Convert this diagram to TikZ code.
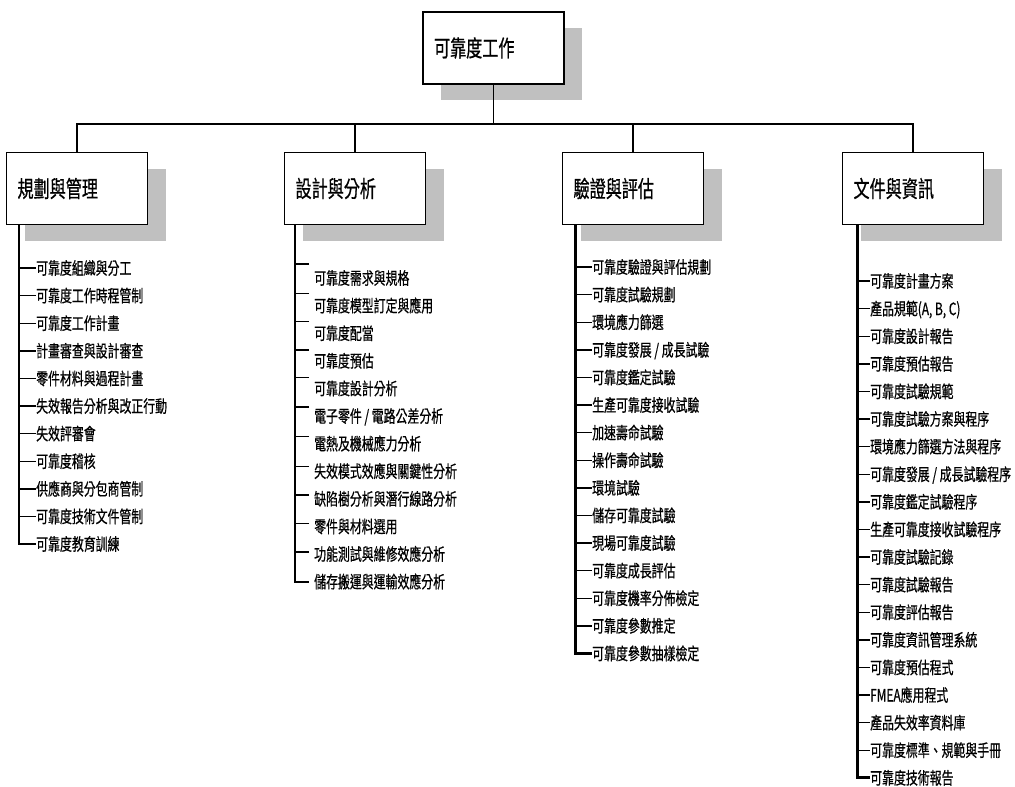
\documentclass[tikz,border=0pt]{standalone}
\usepackage{fontspec}
\setmainfont[FakeStretch=0.7, FakeBold=0.6]{Noto Sans CJK TC}
\usetikzlibrary{positioning, shadows}
\definecolor{shadowgray}{HTML}{C0C0C0}
\tikzstyle{head} = [rectangle, draw=black, line width=1.6pt, fill=white, minimum width=141pt, minimum height=72pt, text width=119pt, inner xsep=11pt, align=left, font=\fontsize{23pt}{27pt}\selectfont, drop shadow={shadow xshift=18pt, shadow yshift=-16pt, fill=shadowgray, opacity=1}]
\tikzstyle{item} = [inner xsep=0pt, inner ysep=1pt, text height=13pt, text depth=0pt, anchor=west, font=\fontsize{17pt}{20pt}\selectfont]
\tikzstyle{line} = [line width=1.6pt]
\tikzstyle{spine} = [line width=2pt]
\tikzstyle{tick} = [line width=1.4pt]

\begin{document}
\begin{tikzpicture}[x=1pt, y=-1pt, node distance=27.6pt]
\useasboundingbox (0,0) rectangle (1015,787);

% Top and group boxes
\node (R) [head] at (493.5,48) {可靠度工作};
\node (B1) [head] at (77,188.5) {規劃與管理};
\node (B2) [head] at (355,188.5) {設計與分析};
\node (B3) [head] at (633,188.5) {驗證與評估};
\node (B4) [head] at (913,188.5) {文件與資訊};

% Planning and management
\node (p1) [item] at (36,268) {可靠度組織與分工};
\node (p2) [item, below=of p1.west, anchor=west] {可靠度工作時程管制};
\node (p3) [item, below=of p2.west, anchor=west] {可靠度工作計畫};
\node (p4) [item, below=of p3.west, anchor=west] {計畫審查與設計審查};
\node (p5) [item, below=of p4.west, anchor=west] {零件材料與過程計畫};
\node (p6) [item, below=of p5.west, anchor=west] {失效報告分析與改正行動};
\node (p7) [item, below=of p6.west, anchor=west] {失效評審會};
\node (p8) [item, below=of p7.west, anchor=west] {可靠度稽核};
\node (p9) [item, below=of p8.west, anchor=west] {供應商與分包商管制};
\node (p10) [item, below=of p9.west, anchor=west] {可靠度技術文件管制};
\node (p11) [item, below=of p10.west, anchor=west] {可靠度教育訓練};

% Design and analysis
\node (d1) [item] at (314,278) {可靠度需求與規格};
\node (d2) [item, below=of d1.west, anchor=west] {可靠度模型訂定與應用};
\node (d3) [item, below=of d2.west, anchor=west] {可靠度配當};
\node (d4) [item, below=of d3.west, anchor=west] {可靠度預估};
\node (d5) [item, below=of d4.west, anchor=west] {可靠度設計分析};
\node (d6) [item, below=of d5.west, anchor=west] {電子零件 / 電路公差分析};
\node (d7) [item, below=of d6.west, anchor=west] {電熱及機械應力分析};
\node (d8) [item, below=of d7.west, anchor=west] {失效模式效應與關鍵性分析};
\node (d9) [item, below=of d8.west, anchor=west] {缺陷樹分析與潛行線路分析};
\node (d10) [item, below=of d9.west, anchor=west] {零件與材料選用};
\node (d11) [item, below=of d10.west, anchor=west] {功能測試與維修效應分析};
\node (d12) [item, below=of d11.west, anchor=west] {儲存搬運與運輸效應分析};

% Verification and evaluation
\node (v1) [item] at (592,267) {可靠度驗證與評估規劃};
\node (v2) [item, below=of v1.west, anchor=west] {可靠度試驗規劃};
\node (v3) [item, below=of v2.west, anchor=west] {環境應力篩選};
\node (v4) [item, below=of v3.west, anchor=west] {可靠度發展 / 成長試驗};
\node (v5) [item, below=of v4.west, anchor=west] {可靠度鑑定試驗};
\node (v6) [item, below=of v5.west, anchor=west] {生產可靠度接收試驗};
\node (v7) [item, below=of v6.west, anchor=west] {加速壽命試驗};
\node (v8) [item, below=of v7.west, anchor=west] {操作壽命試驗};
\node (v9) [item, below=of v8.west, anchor=west] {環境試驗};
\node (v10) [item, below=of v9.west, anchor=west] {儲存可靠度試驗};
\node (v11) [item, below=of v10.west, anchor=west] {現場可靠度試驗};
\node (v12) [item, below=of v11.west, anchor=west] {可靠度成長評估};
\node (v13) [item, below=of v12.west, anchor=west] {可靠度機率分佈檢定};
\node (v14) [item, below=of v13.west, anchor=west] {可靠度參數推定};
\node (v15) [item, below=of v14.west, anchor=west] {可靠度參數抽樣檢定};

% Documents and information
\node (f1) [item] at (870,281) {可靠度計畫方案};
\node (f2) [item, below=of f1.west, anchor=west] {產品規範(A, B, C)};
\node (f3) [item, below=of f2.west, anchor=west] {可靠度設計報告};
\node (f4) [item, below=of f3.west, anchor=west] {可靠度預估報告};
\node (f5) [item, below=of f4.west, anchor=west] {可靠度試驗規範};
\node (f6) [item, below=of f5.west, anchor=west] {可靠度試驗方案與程序};
\node (f7) [item, below=of f6.west, anchor=west] {環境應力篩選方法與程序};
\node (f8) [item, below=of f7.west, anchor=west] {可靠度發展 / 成長試驗程序};
\node (f9) [item, below=of f8.west, anchor=west] {可靠度鑑定試驗程序};
\node (f10) [item, below=of f9.west, anchor=west] {生產可靠度接收試驗程序};
\node (f11) [item, below=of f10.west, anchor=west] {可靠度試驗記錄};
\node (f12) [item, below=of f11.west, anchor=west] {可靠度試驗報告};
\node (f13) [item, below=of f12.west, anchor=west] {可靠度評估報告};
\node (f14) [item, below=of f13.west, anchor=west] {可靠度資訊管理系統};
\node (f15) [item, below=of f14.west, anchor=west] {可靠度預估程式};
\node (f16) [item, below=of f15.west, anchor=west] {FMEA應用程式};
\node (f17) [item, below=of f16.west, anchor=west] {產品失效率資料庫};
\node (f18) [item, below=of f17.west, anchor=west] {可靠度標準、規範與手冊};
\node (f19) [item, below=of f18.west, anchor=west] {可靠度技術報告};

% Bus from the top box
\coordinate (bus) at (493.5,124);
\draw [line] (R.south) -- (bus);
\draw [line] (B1.north) |- (bus) -| (B4.north);
\draw [line] (B2.north) -- (B2.north |- bus);
\draw [line] (B3.north) -- (B3.north |- bus);

% Spines under the group boxes
\coordinate (L1) at ([xshift=13.5pt]B1.south west);
\coordinate (L2) at ([xshift=11.5pt]B2.south west);
\coordinate (L3) at ([xshift=13.5pt]B3.south west);
\coordinate (L4) at ([xshift=15.5pt]B4.south west);
\draw [spine] (L1) |- (p11.west);
\draw [spine] (L2) |- ([xshift=-5pt]d12.west);
\draw [spine, line width=3pt] (L3) |- (v15.west);
\draw [spine, line width=3pt] (L4) |- (f19.west);

% Ticks
\draw [tick] (L1 |- p1.west) -- (p1.west);
\draw [tick] (L1 |- p2.west) -- (p2.west);
\draw [tick] (L1 |- p3.west) -- (p3.west);
\draw [tick] (L1 |- p4.west) -- (p4.west);
\draw [tick] (L1 |- p5.west) -- (p5.west);
\draw [tick] (L1 |- p6.west) -- (p6.west);
\draw [tick] (L1 |- p7.west) -- (p7.west);
\draw [tick] (L1 |- p8.west) -- (p8.west);
\draw [tick] (L1 |- p9.west) -- (p9.west);
\draw [tick] (L1 |- p10.west) -- (p10.west);

\draw [tick] ([shift={(-5pt,14pt)}]d1.west) -- ++(-13pt,0);
\draw [tick] ([shift={(-5pt,12pt)}]d2.west) -- ++(-13pt,0);
\draw [tick] ([shift={(-5pt,12pt)}]d3.west) -- ++(-13pt,0);
\draw [tick] ([shift={(-5pt,11pt)}]d4.west) -- ++(-13pt,0);
\draw [tick] ([shift={(-5pt,11pt)}]d5.west) -- ++(-13pt,0);
\draw [tick] ([shift={(-5pt,9pt)}]d6.west) -- ++(-13pt,0);
\draw [tick] ([shift={(-5pt,7pt)}]d7.west) -- ++(-13pt,0);
\draw [tick] ([shift={(-5pt,5pt)}]d8.west) -- ++(-13pt,0);
\draw [tick] ([shift={(-5pt,4pt)}]d9.west) -- ++(-13pt,0);
\draw [tick] ([shift={(-5pt,3pt)}]d10.west) -- ++(-13pt,0);
\draw [tick] ([shift={(-5pt,2pt)}]d11.west) -- ++(-13pt,0);

\draw [tick] (L3 |- v1.west) -- (v1.west);
\draw [tick] (L3 |- v2.west) -- (v2.west);
\draw [tick] (L3 |- v3.west) -- (v3.west);
\draw [tick] (L3 |- v4.west) -- (v4.west);
\draw [tick] (L3 |- v5.west) -- (v5.west);
\draw [tick] (L3 |- v6.west) -- (v6.west);
\draw [tick] (L3 |- v7.west) -- (v7.west);
\draw [tick] (L3 |- v8.west) -- (v8.west);
\draw [tick] (L3 |- v9.west) -- (v9.west);
\draw [tick] (L3 |- v10.west) -- (v10.west);
\draw [tick] (L3 |- v11.west) -- (v11.west);
\draw [tick] (L3 |- v12.west) -- (v12.west);
\draw [tick] (L3 |- v13.west) -- (v13.west);
\draw [tick] (L3 |- v14.west) -- (v14.west);

\draw [tick] (L4 |- f1.west) -- (f1.west);
\draw [tick] (L4 |- f2.west) -- (f2.west);
\draw [tick] (L4 |- f3.west) -- (f3.west);
\draw [tick] (L4 |- f4.west) -- (f4.west);
\draw [tick] (L4 |- f5.west) -- (f5.west);
\draw [tick] (L4 |- f6.west) -- (f6.west);
\draw [tick] (L4 |- f7.west) -- (f7.west);
\draw [tick] (L4 |- f8.west) -- (f8.west);
\draw [tick] (L4 |- f9.west) -- (f9.west);
\draw [tick] (L4 |- f10.west) -- (f10.west);
\draw [tick] (L4 |- f11.west) -- (f11.west);
\draw [tick] (L4 |- f12.west) -- (f12.west);
\draw [tick] (L4 |- f13.west) -- (f13.west);
\draw [tick] (L4 |- f14.west) -- (f14.west);
\draw [tick] (L4 |- f15.west) -- (f15.west);
\draw [tick] (L4 |- f16.west) -- (f16.west);
\draw [tick] (L4 |- f17.west) -- (f17.west);
\draw [tick] (L4 |- f18.west) -- (f18.west);

\end{tikzpicture}
\end{document}
